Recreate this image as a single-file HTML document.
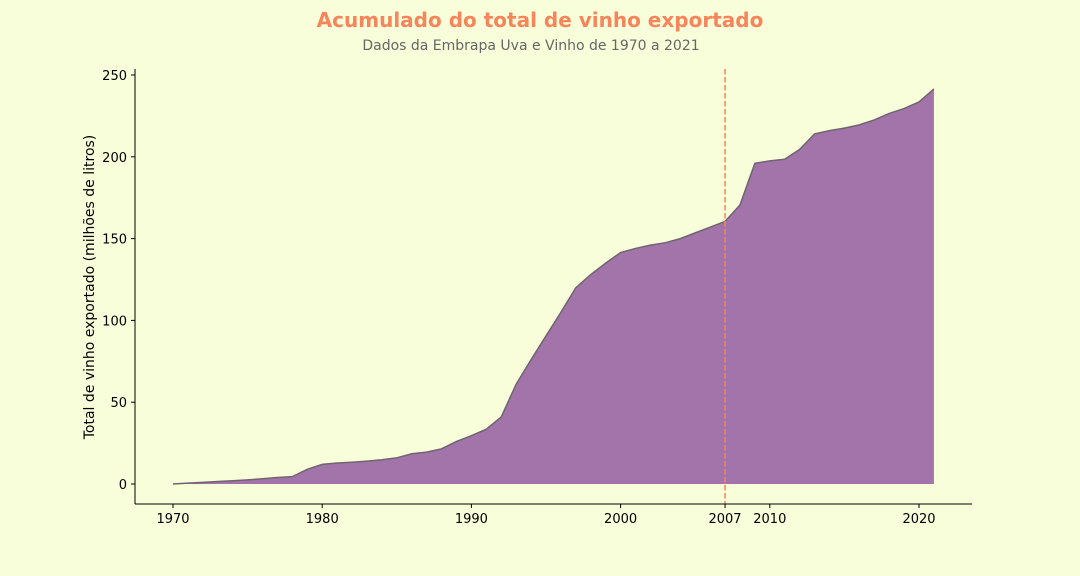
<!DOCTYPE html>
<html><head><meta charset="utf-8"><style>
html,body{margin:0;padding:0;background:#f8fed9;overflow:hidden;width:1080px;height:576px;}
svg{display:block;}
svg text{font-family:"DejaVu Sans","Liberation Sans",sans-serif;}
</style></head><body>
<svg id="chart" width="1080" height="576" xmlns="http://www.w3.org/2000/svg">
<rect width="1080" height="576" fill="#f8fed9"/>
<text x="540" y="27" text-anchor="middle" font-size="20" font-weight="bold" fill="#f7845a">Acumulado do total de vinho exportado</text>
<text x="531" y="50" text-anchor="middle" font-size="14" fill="#666">Dados da Embrapa Uva e Vinho de 1970 a 2021</text>
<g id="plot"></g>
<text transform="translate(94,287) rotate(-90)" text-anchor="middle" font-size="14" fill="#000">Total de vinho exportado (milhões de litros)</text>
</svg>
<script>
const years=[];for(let y=1970;y<=2021;y++)years.push(y);
const values=[0,0.5,1,1.5,2,2.5,3.2,4,4.5,9,12,12.8,13.3,14,14.8,16,18.5,19.5,21.5,26,29.5,33.5,41,61,76,90.5,105,120,128,135,141.5,144,146,147.5,150,153.5,157,160.5,170.5,196,197.5,198.5,204.5,214,216,217.5,219.5,222.5,226.5,229.5,233.5,241.5];
const xTicks=[1970,1980,1990,2000,2007,2010,2020];
const yTicks=[0,50,100,150,200,250];
const markerYear=2007;
const NS="http://www.w3.org/2000/svg";
const g=document.getElementById('plot');
const X=v=>173+(v-1970)*(919-173)/50;
const Y=v=>484-v*(484-75)/250;
function mk(t,a,p){const e=document.createElementNS(NS,t);for(const k in a)e.setAttribute(k,a[k]);(p||g).appendChild(e);return e;}
let d='M'+X(years[0])+','+Y(0);
years.forEach((y,i)=>{d+=' L'+X(y)+','+Y(values[i]);});
d+=' L'+X(years[years.length-1])+','+Y(0)+' Z';
const area=mk('path',{d:d,fill:'#a274a9'});


const ln=mk('polyline',{points:years.map((y,i)=>X(y)+','+Y(values[i])).join(' '),fill:'none',stroke:'#6e6470','stroke-width':1.5});


const vl=mk('line',{x1:X(markerYear),x2:X(markerYear),y1:69,y2:504,stroke:'#f7845a','stroke-width':1.5,'stroke-dasharray':'5.5,2.5'});


const ax=mk('line',{x1:135,x2:135,y1:69,y2:504,stroke:'#000','stroke-width':1});


const bx=mk('line',{x1:135,x2:972,y1:504,y2:504,stroke:'#000','stroke-width':1});


yTicks.forEach(v=>{
 const t=mk('line',{x1:131,x2:135,y1:Y(v),y2:Y(v),stroke:'#000'});
 
 
 const l=mk('text',{x:127,y:Y(v)+5,'text-anchor':'end','font-size':13,fill:'#000'});
 l.textContent=v;
 
 
});
xTicks.forEach(v=>{
 const t=mk('line',{x1:X(v),x2:X(v),y1:504,y2:508,stroke:'#000'});
 
 
 const l=mk('text',{x:X(v),y:523,'text-anchor':'middle','font-size':13,fill:'#000'});
 l.textContent=v;
 
 
});
</script>
</body></html>
